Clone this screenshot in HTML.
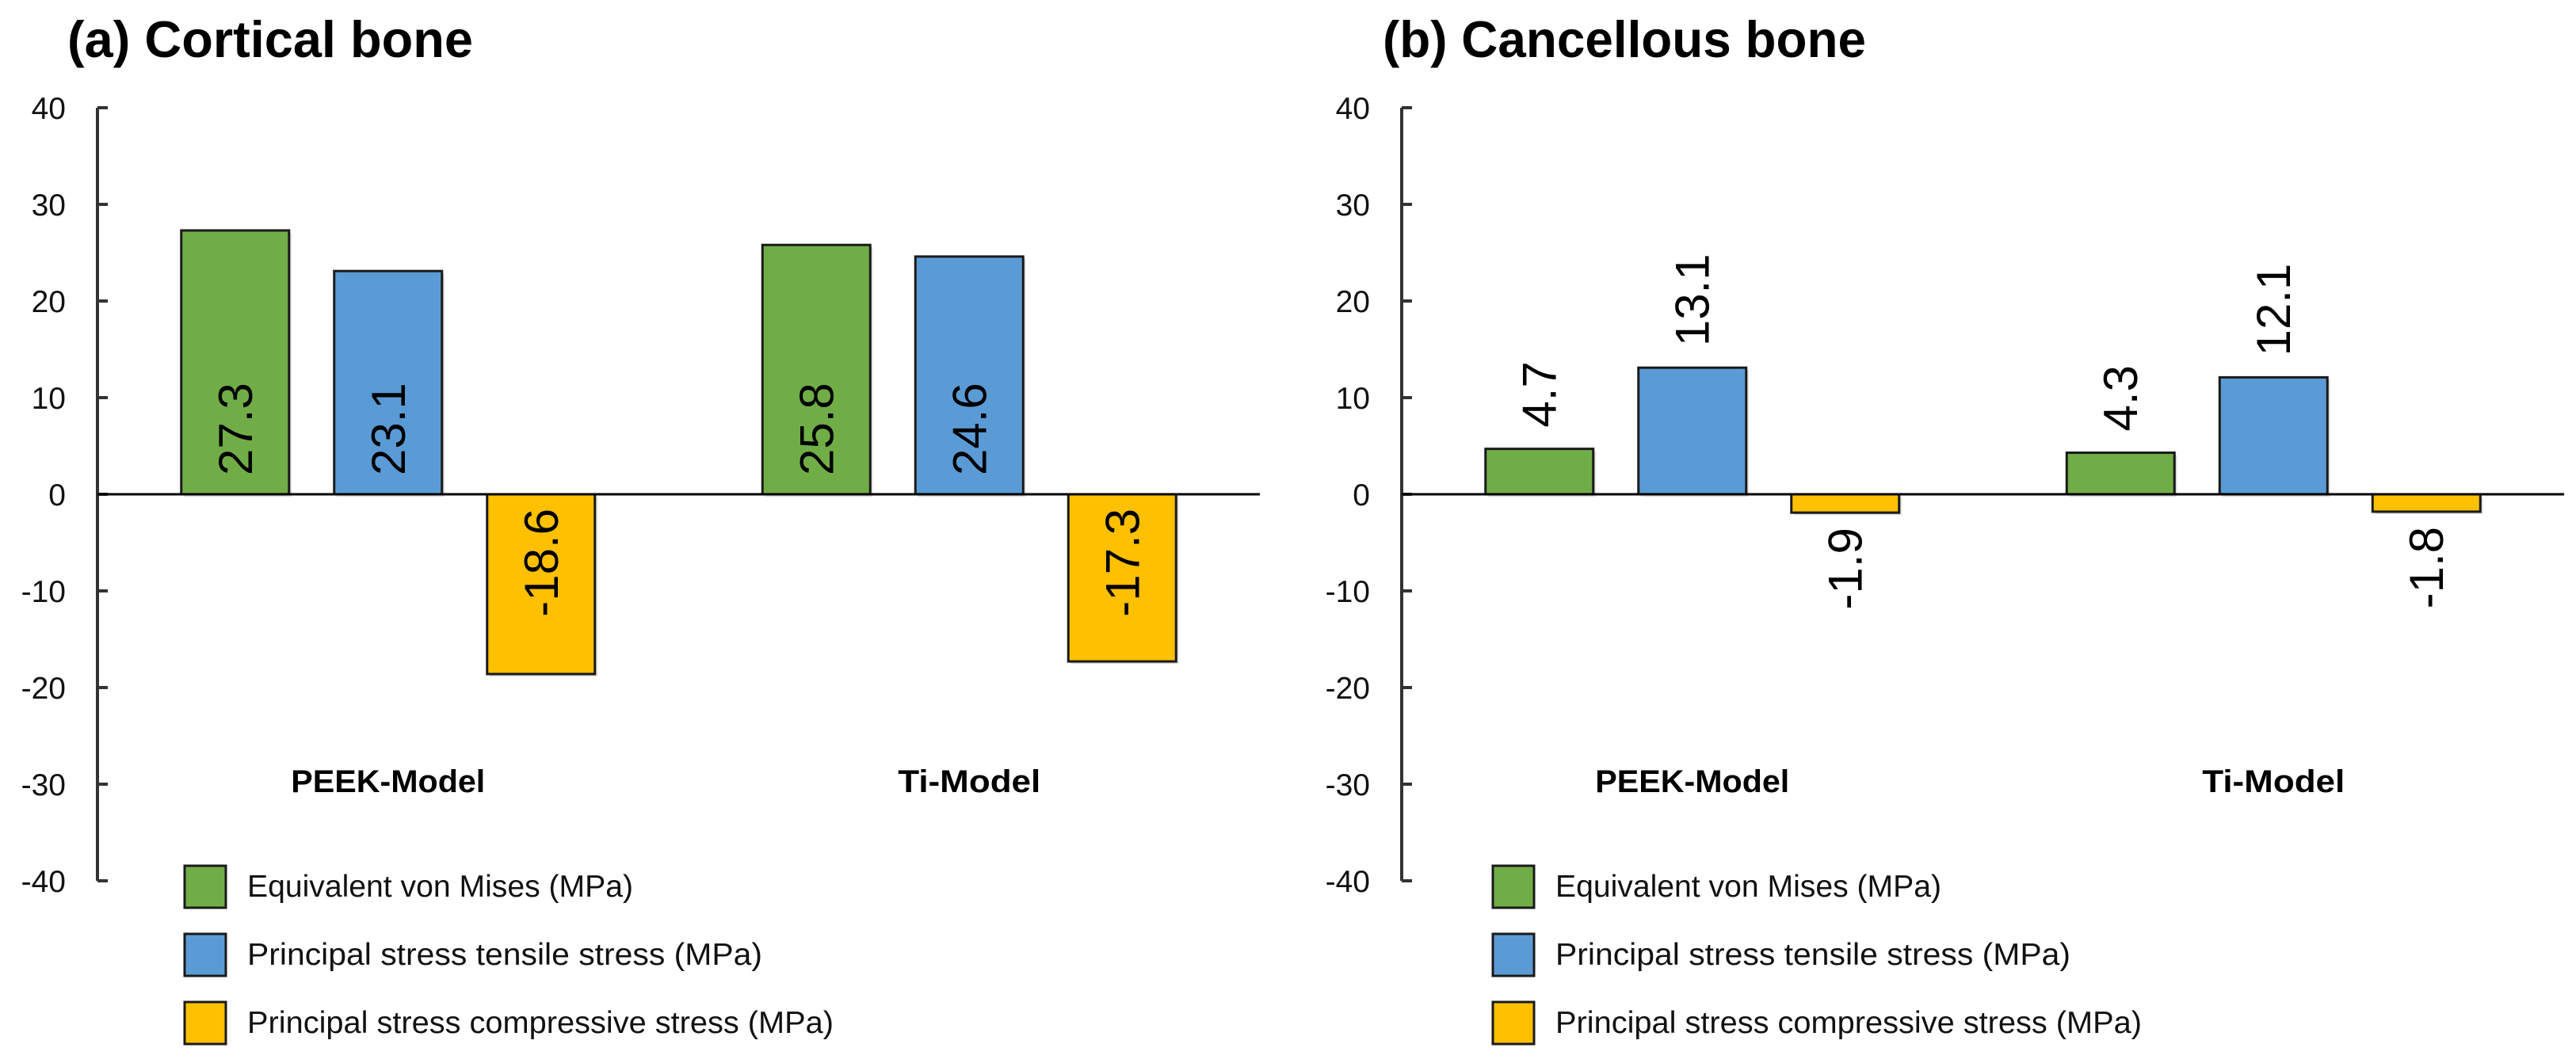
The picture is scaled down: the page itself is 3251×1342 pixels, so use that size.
<!DOCTYPE html>
<html><head><meta charset="utf-8"><title>Cortical and cancellous bone stress</title>
<style>
html,body{margin:0;padding:0;background:#fff;}
svg{display:block;}
text{font-family:"Liberation Sans",Arial,sans-serif;}
</style></head>
<body>
<svg id="chart" width="3251" height="1342" viewBox="0 0 3251 1342" xmlns="http://www.w3.org/2000/svg">
<rect width="3251" height="1342" fill="#fff"/>
</svg>
<script>
const categories = ["PEEK-Model", "Ti-Model"];
const seriesNames = ["Equivalent von Mises (MPa)", "Principal stress tensile stress (MPa)", "Principal stress compressive stress (MPa)"];
const corticalVonMises = [27.3, 25.8];
const corticalTensile = [23.1, 24.6];
const corticalCompressive = [-18.6, -17.3];
const cancellousVonMises = [4.7, 4.3];
const cancellousTensile = [13.1, 12.1];
const cancellousCompressive = [-1.9, -1.8];
const yTicks = [40, 30, 20, 10, 0, -10, -20, -30, -40];

const colors = ["#70AD47", "#5B9BD5", "#FFC000"];
const NS = "http://www.w3.org/2000/svg";
const svg = document.getElementById("chart");
function mk(tag, attrs, parent) {
  const e = document.createElementNS(NS, tag);
  for (const k in attrs) e.setAttribute(k, attrs[k]);
  (parent || svg).appendChild(e);
  return e;
}

const panels = [
  {key: "cortical", title: "(a) Cortical bone", titleX: 85, titleLen: 512, axisX: 123,
   series: [corticalVonMises, corticalTensile, corticalCompressive], inside: true},
  {key: "cancellous", title: "(b) Cancellous bone", titleX: 1745, titleLen: 610, axisX: 1769,
   series: [cancellousVonMises, cancellousTensile, cancellousCompressive], inside: false}
];
const plotW = 1467, y0 = 624, pxPerUnit = 12.2;
const barW = 136, barStep = 193;
function yScale(v) { return y0 - v * pxPerUnit; }

panels.forEach(function (p) {
  const g = mk("g", {});
  
  
  const xScale = function (ci) { return p.axisX + plotW / categories.length * (ci + 0.5); };

  const t = mk("text", {x: p.titleX, y: 72, "font-size": 65, "font-weight": "bold", fill: "#000", textLength: p.titleLen, lengthAdjust: "spacingAndGlyphs"}, g);
  t.textContent = p.title;
  
  

  // y axis
  const ax = mk("line", {x1: p.axisX, x2: p.axisX, y1: yScale(40), y2: yScale(-40), stroke: "#333", "stroke-width": 4}, g);
  
  
  yTicks.forEach(function (v) {
    const tk = mk("line", {x1: p.axisX, x2: p.axisX + 13, y1: yScale(v), y2: yScale(v), stroke: "#333", "stroke-width": 4}, g);
    
    
    const lb = mk("text", {x: p.axisX - 40, y: yScale(v) + 14, "font-size": 39, "text-anchor": "end", fill: "#111"}, g);
    lb.textContent = String(v);
    
    
  });

  // bars
  p.series.forEach(function (vals, si) {
    vals.forEach(function (v, ci) {
      const cx = xScale(ci) + (si - 1) * barStep;
      const top = Math.min(yScale(v), y0), h = Math.abs(yScale(v) - y0);
      const sh = mk("rect", {x: cx - barW / 2 + 3, y: top + 3, width: barW, height: h, fill: "#d8d8d8"}, g);
      
      
      const r = mk("rect", {x: cx - barW / 2, y: top, width: barW, height: h, fill: colors[si], stroke: "#1a1a1a", "stroke-width": 3}, g);
      
      
      let ly, anchor;
      if (p.inside) {
        if (v >= 0) { ly = y0 - 24; anchor = "start"; } else { ly = y0 + 18; anchor = "end"; }
      } else {
        if (v >= 0) { ly = yScale(v) - 27; anchor = "start"; } else { ly = yScale(v) + 19; anchor = "end"; }
      }
      const lx = cx + 21;
      const vl = mk("text", {x: lx, y: ly, "font-size": 60, "text-anchor": anchor, fill: "#000", transform: "rotate(-90 " + lx + " " + ly + ")"}, g);
      vl.textContent = v.toFixed(1);
      
      
    });
  });

  // zero line
  const zl = mk("line", {x1: p.axisX, x2: p.axisX + plotW, y1: y0, y2: y0, stroke: "#000", "stroke-width": 3}, g);
  
  

  // category labels
  categories.forEach(function (c, ci) {
    const len = c === "PEEK-Model" ? 245 : 180;
    const cl = mk("text", {x: xScale(ci), y: 1000, "font-size": 40, "font-weight": "bold", "text-anchor": "middle", fill: "#000", textLength: len, lengthAdjust: "spacingAndGlyphs"}, g);
    cl.textContent = c;
    
    
  });

  // legend
  const legX = p.axisX + 110 + (p.inside ? 0 : 5);
  const legY = [1093, 1179, 1265];
  const legLen = [487, 650, 740];
  seriesNames.forEach(function (n, si) {
    const sw = mk("rect", {x: legX, y: legY[si], width: 52, height: 53, fill: colors[si], stroke: "#1a1a1a", "stroke-width": 3}, g);
    
    
    const lt = mk("text", {x: legX + 79, y: legY[si] + 39, "font-size": 39, fill: "#111", textLength: legLen[si], lengthAdjust: "spacingAndGlyphs"}, g);
    lt.textContent = n;
    
    
  });
});
</script>
</body></html>
